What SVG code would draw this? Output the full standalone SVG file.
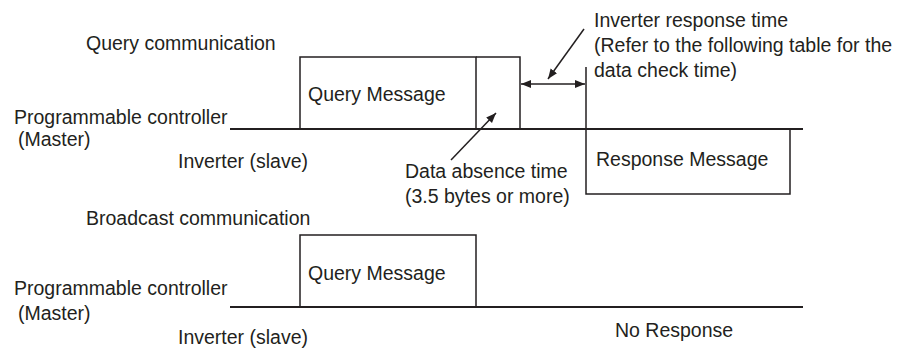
<svg xmlns="http://www.w3.org/2000/svg" width="901" height="349" viewBox="0 0 901 349">
<style>
text{font-family:"Liberation Sans",Arial,sans-serif;font-size:19.5px;fill:#231f20}
.ln{stroke:#231f20;stroke-width:1.5;fill:none}
.bl{stroke:#231f20;stroke-width:2;fill:none}
</style>
<defs>
<marker id="ah" viewBox="0 0 10 10" refX="10" refY="5" markerWidth="10" markerHeight="10" markerUnits="userSpaceOnUse" orient="auto-start-reverse">
<path d="M0,1 L10,5 L0,9 z" fill="#231f20"/>
</marker>
</defs>
<g id="labels">
<text x="86" y="50">Query communication</text>
<text x="14" y="124">Programmable controller</text>
<text x="18" y="146">(Master)</text>
<text x="178" y="168">Inverter (slave)</text>
<text x="594" y="27">Inverter response time</text>
<text x="594" y="52">(Refer to the following table for the</text>
<text x="594" y="77">data check time)</text>
<text x="405" y="178">Data absence time</text>
<text x="405" y="203">(3.5 bytes or more)</text>
<text x="86" y="225">Broadcast communication</text>
<text x="14" y="295">Programmable controller</text>
<text x="18" y="320">(Master)</text>
<text x="178" y="344">Inverter (slave)</text>
<text x="615" y="337">No Response</text>
</g>
<g id="query-message-1">
<polyline class="ln" points="300,129 300,57 476,57 476,129"/>
<text x="308" y="101">Query Message</text>
</g>
<g id="data-absence-box">
<polyline class="ln" points="476,57 520,57 520,129"/>
</g>
<g id="response-message">
<polyline class="ln" points="586,67 586,194 790,194 790,129"/>
<text x="596" y="166">Response Message</text>
</g>
<g id="query-message-2">
<polyline class="ln" points="300,307 300,235 476,235 476,307"/>
<text x="308" y="280">Query Message</text>
</g>
<g id="connectors">
<line class="bl" x1="230" y1="129" x2="803" y2="129"/>
<line class="bl" x1="230" y1="307" x2="803" y2="307"/>
<line class="ln" x1="521" y1="84" x2="585" y2="84" marker-start="url(#ah)" marker-end="url(#ah)"/>
<line class="ln" x1="584" y1="29" x2="548" y2="79" marker-end="url(#ah)"/>
<line class="ln" x1="451" y1="160" x2="496" y2="113" marker-end="url(#ah)"/>
</g>
</svg>
